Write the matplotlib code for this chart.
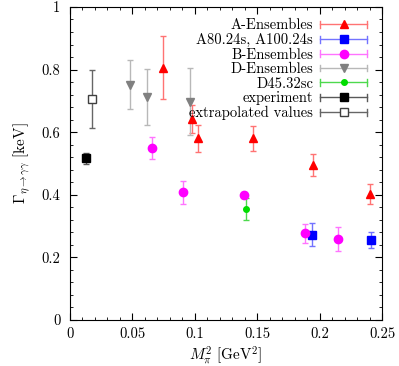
import matplotlib
matplotlib.use('Agg')
import matplotlib.pyplot as plt
from matplotlib.legend_handler import HandlerBase
from matplotlib.container import ErrorbarContainer
from matplotlib.lines import Line2D
from matplotlib.ticker import MultipleLocator

plt.rcParams['font.family'] = 'cmr10'
plt.rcParams['mathtext.fontset'] = 'cm'
plt.rcParams['axes.formatter.use_mathtext'] = True

# Data (M_pi^2 [GeV^2], Gamma [keV], error)
a_x = [0.0748, 0.0975, 0.1028, 0.1464, 0.1944, 0.2404]
a_y = [0.806, 0.641, 0.581, 0.580, 0.495, 0.404]
a_err = [0.100, 0.045, 0.043, 0.040, 0.035, 0.032]

a80_x = [0.1939, 0.2412]
a80_y = [0.272, 0.255]
a80_err = [0.037, 0.025]

b_x = [0.0660, 0.0905, 0.1397, 0.1886, 0.2150]
b_y = [0.549, 0.408, 0.399, 0.277, 0.259]
b_err = [0.035, 0.037, 0.010, 0.030, 0.038]

d_x = [0.0478, 0.0614, 0.0964]
d_y = [0.751, 0.713, 0.697]
d_err = [0.078, 0.090, 0.107]

d45_x = [0.1408]
d45_y = [0.354]
d45_err = [0.035]

exp_x = [0.0128]
exp_y = [0.517]
exp_err = [0.018]

extra_x = [0.0179]
extra_y = [0.706]
extra_err = [0.092]


class GnuHandler(HandlerBase):
    # gnuplot-like key sample: horizontal bar with end caps and marker in middle
    def create_artists(self, legend, orig_handle, xdescent, ydescent,
                       width, height, fontsize, trans):
        data_line = orig_handle.lines[0]
        ecolor = orig_handle.lines[2][0].get_color()[0]
        y = height / 2 - ydescent
        x0, x1 = -xdescent, width - xdescent
        bar = Line2D([x0, x1], [y, y], color=ecolor, lw=1)
        c0 = Line2D([x0, x0], [y - 2.5, y + 2.5], color=ecolor, lw=1)
        c1 = Line2D([x1, x1], [y - 2.5, y + 2.5], color=ecolor, lw=1)
        mk = Line2D([(x0 + x1) / 2], [y], ls='none',
                    marker=data_line.get_marker(),
                    markersize=data_line.get_markersize(),
                    markerfacecolor=data_line.get_markerfacecolor(),
                    markeredgecolor=data_line.get_markeredgecolor())
        arts = [bar, c0, c1, mk]
        for a in arts:
            a.set_transform(trans)
        return arts


fig = plt.figure(figsize=(3.99, 3.66), dpi=100)
ax = fig.add_axes([0.1754, 0.1257, 0.7820, 0.8553])

kw = dict(ls='none', capsize=2.5, elinewidth=1, capthick=1)
ax.errorbar(a_x, a_y, yerr=a_err, marker='^', ms=6, color='red',
            ecolor=(1, 0.45, 0.45), label='A-Ensembles', **kw)
ax.errorbar(a80_x, a80_y, yerr=a80_err, marker='s', ms=5.5, color='blue',
            ecolor=(0.45, 0.45, 1), label='A80.24s, A100.24s', **kw)
ax.errorbar(b_x, b_y, yerr=b_err, marker='o', ms=6, color='magenta',
            ecolor=(1, 0.45, 1), label='B-Ensembles', **kw)
ax.errorbar(d_x, d_y, yerr=d_err, marker='v', ms=6, color='gray',
            ecolor=(0.72, 0.72, 0.72), label='D-Ensembles', **kw)
ax.errorbar(d45_x, d45_y, yerr=d45_err, marker='o', ms=4, color='#00dd00',
            ecolor=(0.3, 0.85, 0.3), label='D45.32sc', **kw)
ax.errorbar(exp_x, exp_y, yerr=exp_err, marker='s', ms=5.5, color='black',
            ecolor=(0.35, 0.35, 0.35), label='experiment', **kw)
ax.errorbar(extra_x, extra_y, yerr=extra_err, marker='s', ms=6, color='#404040',
            mfc='white', mec='#404040', ecolor=(0.4, 0.4, 0.4),
            label='extrapolated values', **kw)

ax.set_xlim(0, 0.25)
ax.set_ylim(0, 1)
ax.xaxis.set_major_locator(MultipleLocator(0.05))
ax.xaxis.set_minor_locator(MultipleLocator(0.01))
ax.yaxis.set_major_locator(MultipleLocator(0.2))
ax.yaxis.set_minor_locator(MultipleLocator(0.04))
ax.xaxis.set_major_formatter(lambda v, p: '0' if v == 0 else ('%g' % v))
ax.yaxis.set_major_formatter(lambda v, p: '0' if v == 0 else ('%g' % v))
ax.tick_params(which='both', direction='in', top=True, right=True, labelsize=10.5)
ax.tick_params(which='major', length=5)
ax.tick_params(which='minor', length=2.5)
ax.tick_params(axis='x', which='major', pad=5)
ax.tick_params(axis='y', which='major', pad=7)

ax.set_xlabel(r'$M_\pi^2\ [\mathrm{GeV}^2]$', fontsize=11, labelpad=3)
ax.set_ylabel(r'$\Gamma_{\eta\to\gamma\gamma}\ [\mathrm{keV}]$', fontsize=11, labelpad=6)

ax.legend(handler_map={ErrorbarContainer: GnuHandler()}, loc='upper right',
          frameon=False, markerfirst=False, fontsize=10.5, handlelength=3.2,
          labelspacing=0.05, borderaxespad=0.3, handletextpad=0.5,
          bbox_to_anchor=(0.985, 0.995))

fig.savefig('out.png', dpi=100)
